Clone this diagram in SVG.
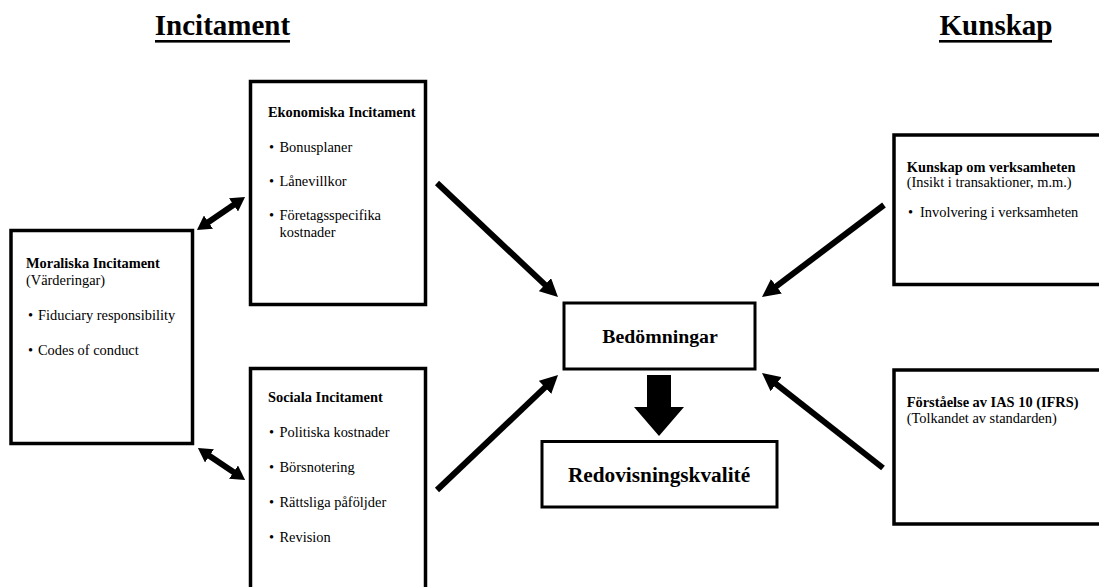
<svg xmlns="http://www.w3.org/2000/svg" width="1099" height="587" viewBox="0 0 1099 587">
<style>
text{font-family:"Liberation Serif","Times New Roman",serif;fill:#000}
.t{font-size:29px;font-weight:bold}
.ul{fill:#000}
.h{font-size:14.4px;font-weight:bold}
.r{font-size:14.4px}
.c{font-size:19.8px;font-weight:bold;text-anchor:middle}
.box{fill:#fff;stroke:#000;stroke-width:3.5}
.cbox{fill:#fff;stroke:#000;stroke-width:3}
.arr{stroke:#000;stroke-width:6;fill:none}
.darr{stroke:#000;stroke-width:6;fill:none}
</style>
<defs>
<marker id="ah" viewBox="0 0 18 18" refX="4" refY="9" markerWidth="18" markerHeight="18" markerUnits="userSpaceOnUse" orient="auto"><path d="M0,0 L18,9 L0,18 z" fill="#000"/></marker>
<marker id="dh" viewBox="0 0 14 16" refX="3" refY="8" markerWidth="14" markerHeight="16" markerUnits="userSpaceOnUse" orient="auto-start-reverse"><path d="M0,0 L14,8 L0,16 z" fill="#000"/></marker>
</defs>
<rect width="1099" height="587" fill="#fff"/>
<g id="titles">
<text class="t" x="222.5" y="35" text-anchor="middle">Incitament</text>
<rect class="ul" x="155" y="40" width="135" height="2.6"/>
<text class="t" x="996" y="35" text-anchor="middle">Kunskap</text>
<rect class="ul" x="939" y="40" width="113" height="2.6"/>
</g>
<g id="connectors">
<line class="arr" x1="437" y1="183" x2="547.8" y2="287.4" marker-end="url(#ah)"/>
<line class="arr" x1="437" y1="490" x2="547.9" y2="384.6" marker-end="url(#ah)"/>
<line class="arr" x1="884" y1="205" x2="773.2" y2="288.6" marker-end="url(#ah)"/>
<line class="arr" x1="883" y1="468" x2="773" y2="381.7" marker-end="url(#ah)"/>
<line class="darr" x1="206" y1="223.8" x2="236" y2="203.2" marker-start="url(#dh)" marker-end="url(#dh)"/>
<line class="darr" x1="207" y1="454.2" x2="236" y2="473.8" marker-start="url(#dh)" marker-end="url(#dh)"/>
<polygon points="647,375 671,375 671,407 684,407 659,436 634,407 647,407" fill="#000"/>
</g>
<g id="ekonomiska">
<rect class="box" x="250.5" y="81.5" width="175" height="223"/>
<text class="h" x="268" y="117">Ekonomiska Incitament</text>
<text class="r" y="151.7"><tspan x="269">•</tspan><tspan x="279.5">Bonusplaner</tspan></text>
<text class="r" y="185.7"><tspan x="269">•</tspan><tspan x="279.5">Lånevillkor</tspan></text>
<text class="r" y="220"><tspan x="269">•</tspan><tspan x="279.5">Företagsspecifika</tspan></text>
<text class="r" x="279.5" y="237">kostnader</text>
</g>
<g id="moraliska">
<rect class="box" x="11" y="230.5" width="181.5" height="213"/>
<text class="h" x="26" y="268">Moraliska Incitament</text>
<text class="r" x="26" y="285">(Värderingar)</text>
<text class="r" y="320"><tspan x="28">•</tspan><tspan x="38">Fiduciary responsibility</tspan></text>
<text class="r" y="355"><tspan x="28">•</tspan><tspan x="38">Codes of conduct</tspan></text>
</g>
<g id="sociala">
<rect class="box" x="250.5" y="368.5" width="175" height="240"/>
<text class="h" x="268" y="401.7">Sociala Incitament</text>
<text class="r" y="436.7"><tspan x="269">•</tspan><tspan x="279.5">Politiska kostnader</tspan></text>
<text class="r" y="471.7"><tspan x="269">•</tspan><tspan x="279.5">Börsnotering</tspan></text>
<text class="r" y="506.7"><tspan x="269">•</tspan><tspan x="279.5">Rättsliga påföljder</tspan></text>
<text class="r" y="541.7"><tspan x="269">•</tspan><tspan x="279.5">Revision</tspan></text>
</g>
<g id="bedomningar">
<rect class="cbox" x="564" y="303" width="191" height="66"/>
<text class="c" x="660" y="342.5">Bedömningar</text>
</g>
<g id="redovisningskvalite">
<rect class="cbox" x="542" y="441.5" width="235" height="65.5"/>
<text class="c" x="659" y="482" style="font-size:21.3px">Redovisningskvalité</text>
</g>
<g id="kunskap-verksamhet">
<rect class="box" x="894" y="135" width="220" height="149.5"/>
<text class="h" x="906.7" y="171.7">Kunskap om verksamheten</text>
<text class="r" x="906.7" y="186.7">(Insikt i transaktioner, m.m.)</text>
<text class="r" y="216.7"><tspan x="908">•</tspan><tspan x="920">Involvering i verksamheten</tspan></text>
</g>
<g id="forstaelse">
<rect class="box" x="894" y="370" width="220" height="154"/>
<text class="h" x="906.7" y="407.3">Förståelse av IAS 10 (IFRS)</text>
<text class="r" x="906.7" y="423.3">(Tolkandet av standarden)</text>
</g>
</svg>
